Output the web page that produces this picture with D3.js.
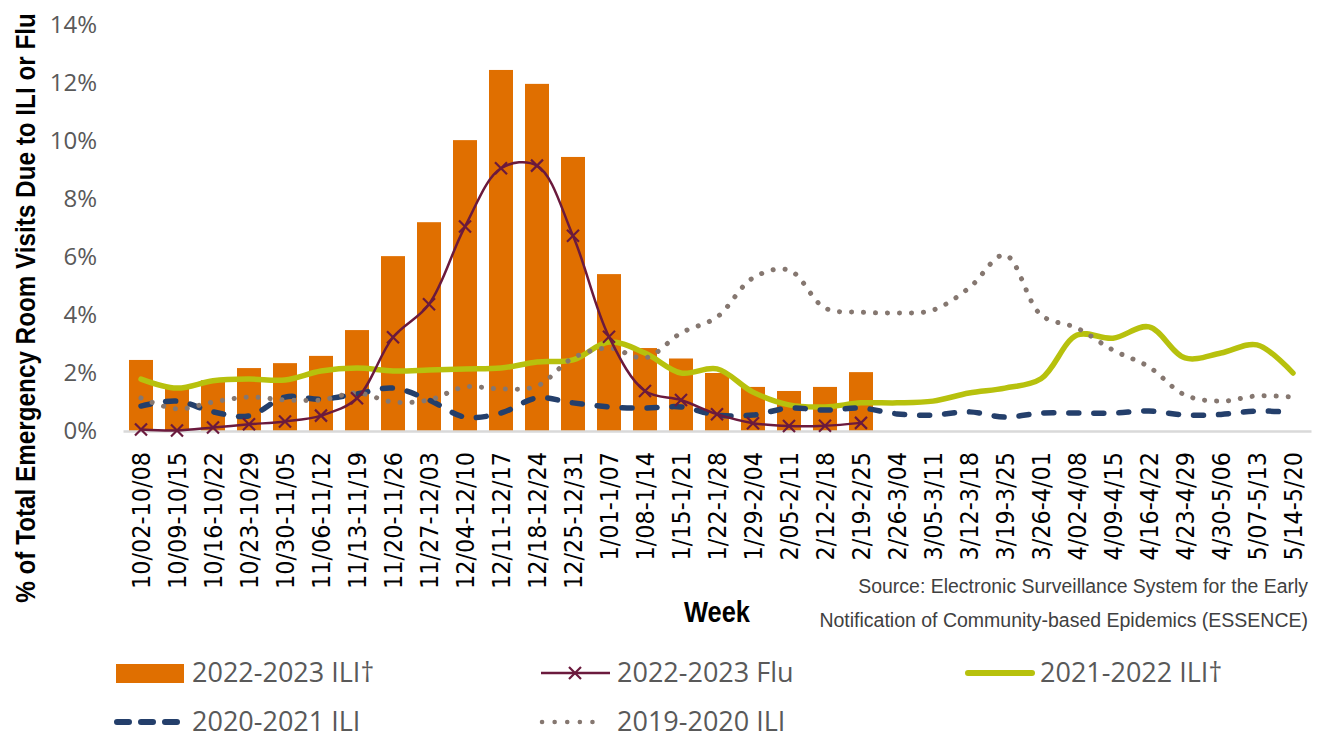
<!DOCTYPE html>
<html>
<head>
<meta charset="utf-8">
<script src="https://cdn.jsdelivr.net/npm/d3@7"></script>
<style>
  body { margin: 0; background: #fff; }
  svg { display: block; }
</style>
</head>
<body>
<div id="chart"></div>
<script>
// weeks on the x axis
const weeks = ["10/02-10/08","10/09-10/15","10/16-10/22","10/23-10/29","10/30-11/05","11/06-11/12",
  "11/13-11/19","11/20-11/26","11/27-12/03","12/04-12/10","12/11-12/17","12/18-12/24","12/25-12/31",
  "1/01-1/07","1/08-1/14","1/15-1/21","1/22-1/28","1/29-2/04","2/05-2/11","2/12-2/18","2/19-2/25",
  "2/26-3/04","3/05-3/11","3/12-3/18","3/19-3/25","3/26-4/01","4/02-4/08","4/09-4/15","4/16-4/22",
  "4/23-4/29","4/30-5/06","5/07-5/13","5/14-5/20"]

// series values (%)
const ili2223 = [2.45,1.45,1.75,2.17,2.34,2.59,3.48,6.03,7.2,10.03,12.45,11.97,9.45,5.41,2.86,2.5,2.0,1.52,1.38,1.52,2.03]
const flu2223 = [0.05,0.02,0.12,0.23,0.33,0.53,1.13,3.23,4.37,7.05,9.06,9.15,6.73,3.25,1.38,1.07,0.58,0.27,0.17,0.18,0.28]
const ili2122 = [1.79,1.48,1.73,1.79,1.76,2.07,2.17,2.07,2.1,2.14,2.17,2.38,2.45,3.07,2.69,2.0,2.14,1.34,0.9,0.83,0.97,0.97,1.03,1.31,1.48,1.8,3.31,3.2,3.59,2.52,2.69,2.97,2.0]
const ili2021 = [0.86,1.03,0.66,0.52,1.17,1.1,1.28,1.48,1.07,0.48,0.62,1.14,0.97,0.83,0.79,0.83,0.55,0.55,0.79,0.72,0.79,0.59,0.55,0.66,0.48,0.62,0.62,0.62,0.69,0.55,0.57,0.69,0.64]
const ili1920 = [1.14,0.76,1.0,1.17,1.07,1.07,1.31,1.0,1.07,1.52,1.45,1.55,2.52,2.86,2.52,3.38,3.93,5.28,5.55,4.24,4.1,4.07,4.17,4.93,6.07,4.0,3.55,2.79,2.21,1.24,1.03,1.21,1.17]

const yTicks = [0,2,4,6,8,10,12,14]

const width = 1319, height = 738
const margin = {top: 25, right: 8, bottom: 307, left: 123}

const svg = d3.select("#chart").append("svg")
  .attr("width", width)
  .attr("height", height)

// scales
const x = d3.scaleBand()
  .domain(weeks)
  .range([margin.left, width - margin.right])
  .paddingInner(1/3)
  .paddingOuter(1/6)

const y = d3.scaleLinear()
  .domain([0, 14])
  .range([height - margin.bottom, margin.top])

const cx = d => x(d) + x.bandwidth() / 2

// y axis labels
const yAxis = svg.append("g")
  .attr("transform", "translate(" + margin.left + ",0)")
  .call(d3.axisLeft(y).tickValues(yTicks).tickFormat(d => d + "%").tickSize(0).tickPadding(26))
yAxis.select(".domain").remove()
yAxis.selectAll("text")
  .attr("font-family", "'Open Sans', sans-serif")
  .attr("font-size", 24)
  .attr("fill", "#595959")

// bars
svg.append("g")
  .selectAll("rect")
  .data(ili2223)
  .join("rect")
  .attr("x", (d, i) => x(weeks[i]))
  .attr("y", d => y(d))
  .attr("width", x.bandwidth())
  .attr("height", d => y(0) - y(d))
  .attr("fill", "#e06f00")

// x axis line + labels
const xAxis = svg.append("g")
  .attr("transform", "translate(0," + y(0) + ")")
  .call(d3.axisBottom(x).tickSize(0).tickSizeOuter(0))
xAxis.select(".domain")
  .attr("stroke", "#d9d9d9")
  .attr("stroke-width", 2.5)
const xLabels = xAxis.selectAll("text")
  .attr("font-family", "'DejaVu Sans Condensed', 'DejaVu Sans', sans-serif")
  .attr("font-stretch", "condensed")
  .attr("font-size", 22)
  .attr("fill", "#000")
  .attr("text-anchor", "end")
  .attr("transform", "rotate(-90)")
  .attr("x", -21)
  .attr("y", 0)
  .attr("dy", "0.36em")
// size labels so the longest one matches the reference
const firstLen = xLabels.node().getComputedTextLength()
xLabels.attr("font-size", 22 * 137 / firstLen)

const curve = d3.curveCatmullRom.alpha(0.5)
const line = d3.line()
  .x((d, i) => cx(weeks[i]))
  .y(d => y(d))
  .curve(curve)

// 2021-2022 ILI
svg.append("path")
  .datum(ili2122)
  .attr("d", line)
  .attr("fill", "none")
  .attr("stroke", "#b7c10d")
  .attr("stroke-width", 5.5)
  .attr("stroke-linecap", "round")

// 2020-2021 ILI
svg.append("path")
  .datum(ili2021)
  .attr("d", line)
  .attr("fill", "none")
  .attr("stroke", "#243f6b")
  .attr("stroke-width", 5.5)
  .attr("stroke-linecap", "round")
  .attr("stroke-dasharray", "10,15")

// 2019-2020 ILI
svg.append("path")
  .datum(ili1920)
  .attr("d", line)
  .attr("fill", "none")
  .attr("stroke", "#857770")
  .attr("stroke-width", 5)
  .attr("stroke-linecap", "round")
  .attr("stroke-dasharray", "0.1,11.9")

// 2022-2023 Flu
svg.append("path")
  .datum(flu2223)
  .attr("d", line)
  .attr("fill", "none")
  .attr("stroke", "#6b1a3d")
  .attr("stroke-width", 2.5)

const xMark = 6
svg.append("g")
  .selectAll("path")
  .data(flu2223)
  .join("path")
  .attr("d", (d, i) => {
    const px = cx(weeks[i]), py = y(d)
    return "M" + (px - xMark) + "," + (py - xMark) + "L" + (px + xMark) + "," + (py + xMark) +
      "M" + (px - xMark) + "," + (py + xMark) + "L" + (px + xMark) + "," + (py - xMark)
  })
  .attr("stroke", "#6b1a3d")
  .attr("stroke-width", 2.2)
  .attr("fill", "none")

const narrow = "'Liberation Sans Narrow', 'Liberation Sans', Arial, sans-serif"

// draw a text squeezed horizontally to a target width (narrow face look)
function squeezed(g, tx, ty, rot, anchor, target, props, label) {
  const t = g.append("text")
    .attr("text-anchor", anchor)
    .attr("font-family", narrow)
    .attr("fill", props.fill)
    .attr("font-size", props.size)
    .attr("font-weight", props.weight || "normal")
    .text(label)
  const k = Math.min(1, target / t.node().getComputedTextLength())
  t.attr("transform", "translate(" + tx + "," + ty + ") rotate(" + rot + ") scale(" + k + ",1)")
  return t
}

// y title
squeezed(svg, 35, 308, -90, "middle", 590, {fill: "#000", size: 27, weight: "bold"},
  "% of Total Emergency Room Visits Due to ILI or Flu")

// x title
squeezed(svg, 717, 622, 0, "middle", 66, {fill: "#000", size: 30, weight: "bold"}, "Week")

// source note
squeezed(svg, 1308, 593, 0, "end", 450, {fill: "#404040", size: 21},
  "Source: Electronic Surveillance System for the Early")
squeezed(svg, 1308, 627, 0, "end", 489, {fill: "#404040", size: 21},
  "Notification of Community-based Epidemics (ESSENCE)")

// legend
const legend = svg.append("g")
  .attr("font-family", "'Open Sans', sans-serif")
  .attr("font-size", 27)
  .attr("fill", "#595959")

function legendText(tx, ty, label) {
  legend.append("text").attr("x", tx).attr("y", ty).attr("dy", "0.35em").text(label)
}

legend.append("rect").attr("x", 116).attr("y", 664).attr("width", 68).attr("height", 19).attr("fill", "#e06f00")
legendText(192, 673, "2022-2023 ILI†")

legend.append("line").attr("x1", 541).attr("x2", 610).attr("y1", 673).attr("y2", 673)
  .attr("stroke", "#6b1a3d").attr("stroke-width", 2.5)
legend.append("path")
  .attr("d", "M569,667L581,679M569,679L581,667")
  .attr("stroke", "#6b1a3d").attr("stroke-width", 2.2)
legendText(617, 673, "2022-2023 Flu")

legend.append("line").attr("x1", 968).attr("x2", 1032).attr("y1", 673).attr("y2", 673)
  .attr("stroke", "#b7c10d").attr("stroke-width", 6).attr("stroke-linecap", "round")
legendText(1040, 673, "2021-2022 ILI†")

legend.append("line").attr("x1", 117).attr("x2", 180).attr("y1", 722).attr("y2", 722)
  .attr("stroke", "#243f6b").attr("stroke-width", 6).attr("stroke-linecap", "round")
  .attr("stroke-dasharray", "12,12")
legendText(192, 722, "2020-2021 ILI")

legend.append("line").attr("x1", 542).attr("x2", 605).attr("y1", 722).attr("y2", 722)
  .attr("stroke", "#857770").attr("stroke-width", 4.5).attr("stroke-linecap", "round")
  .attr("stroke-dasharray", "0.1,12.5")
legendText(617, 722, "2019-2020 ILI")
</script>
</body>
</html>
